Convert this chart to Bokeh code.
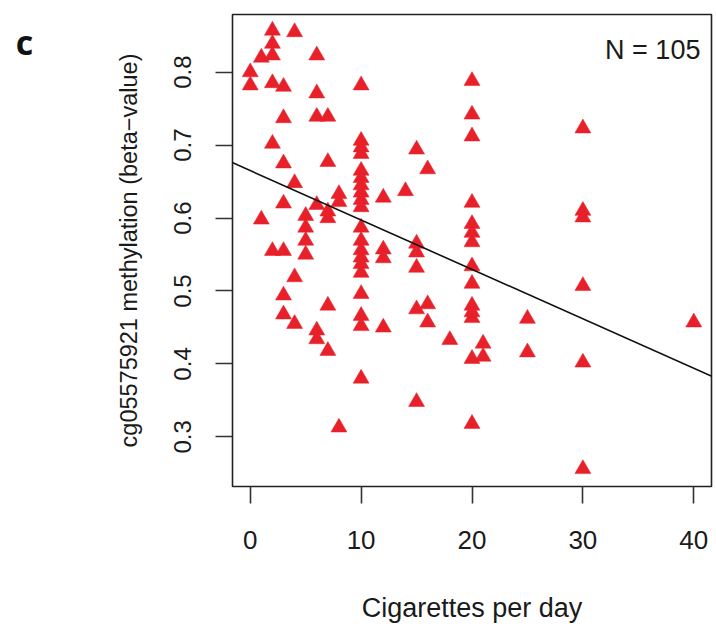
from bokeh.plotting import figure
from bokeh.layouts import row
from bokeh.models import Range1d, FixedTicker, Slope, Label
from bokeh.core.properties import value
from bokeh.embed import file_html
from bokeh.resources import INLINE

# ---- data ----
cigarettes = ([0] * 2 + [1] * 2 + [2] * 6 + [3] * 7 + [4] * 4 + [5] * 4 + [6] * 6 + [7] * 6 + [8] * 3
              + [10] * 20 + [12] * 4 + [14] + [15] * 6 + [16] * 3 + [18] + [20] * 14 + [21] * 2
              + [25] * 2 + [30] * 6 + [40])
methylation = [
    0.800, 0.782,
    0.820, 0.598,
    0.857, 0.839, 0.823, 0.785, 0.702, 0.555,
    0.780, 0.737, 0.675, 0.620, 0.555, 0.494, 0.468,
    0.855, 0.648, 0.519, 0.455,
    0.603, 0.587, 0.569, 0.550,
    0.823, 0.771, 0.739, 0.618, 0.446, 0.434,
    0.739, 0.677, 0.609, 0.600, 0.480, 0.418,
    0.633, 0.622, 0.313,
    0.782, 0.706, 0.697, 0.688, 0.665, 0.655, 0.645, 0.635, 0.625, 0.615,
    0.587, 0.569, 0.556, 0.546, 0.537, 0.525, 0.496, 0.466, 0.452, 0.380,
    0.628, 0.557, 0.545, 0.450,
    0.637,
    0.694, 0.565, 0.553, 0.532, 0.475, 0.348,
    0.667, 0.482, 0.457,
    0.433,
    0.788, 0.742, 0.712, 0.621, 0.592, 0.580, 0.567, 0.534, 0.510, 0.480, 0.471, 0.463, 0.407, 0.318,
    0.428, 0.410,
    0.462, 0.416,
    0.723, 0.610, 0.601, 0.507, 0.402, 0.256,
    0.457,
]
fit_intercept = 0.665
fit_slope = -0.00677
x_ticks = [0, 10, 20, 30, 40]
y_ticks = [0.3, 0.4, 0.5, 0.6, 0.7, 0.8]
n_text = "N = 105"
panel_letter = ["c"]

FONT = "Liberation Sans"
TEXT = "#1a1a1a"

# ---- narrow strip holding the panel letter ----
strip = figure(width=40, height=627, output_backend="svg", toolbar_location=None,
               x_range=Range1d(0, 40), y_range=Range1d(627, 0),
               min_border=0, outline_line_color=None)
strip.axis.visible = False
strip.grid.visible = False
strip.text(x=[24], y=[37], text=panel_letter, text_align="center", text_baseline="alphabetic",
           text_font=value("Open Sans"), text_font_style="bold", text_font_size="34px",
           text_color="#111111")

# ---- main scatter ----
p = figure(width=676, height=627, output_backend="svg", toolbar_location=None,
           x_range=Range1d(-1.6, 41.6), y_range=Range1d(0.232, 0.879),
           min_border_left=192, min_border_right=5, min_border_top=14, min_border_bottom=141)

p.xgrid.visible = False
p.ygrid.visible = False
p.outline_line_color = "#222222"
p.outline_line_width = 1.6
p.background_fill_color = "white"
p.border_fill_color = "white"

for ax in (p.xaxis[0], p.yaxis[0]):
    ax.axis_line_color = None
    ax.major_tick_out = 17
    ax.major_tick_in = 0
    ax.minor_tick_line_color = None
    ax.major_tick_line_color = "#333333"
    ax.major_tick_line_width = 1.6
    ax.major_label_text_font = FONT
    ax.axis_label_text_font = FONT
    ax.major_label_text_color = TEXT
    ax.axis_label_text_color = TEXT
    ax.axis_label_text_font_style = "normal"

p.xaxis.ticker = FixedTicker(ticks=x_ticks)
p.yaxis.ticker = FixedTicker(ticks=y_ticks)
p.xaxis.major_label_text_font_size = "26px"
p.yaxis.major_label_text_font_size = "24px"
p.yaxis.major_label_orientation = "vertical"
p.xaxis.axis_label = "Cigarettes per day"
p.yaxis.axis_label = "cg05575921 methylation (beta\u2212value)"
p.xaxis.axis_label_text_font_size = "27px"
p.yaxis.axis_label_text_font_size = "23.5px"
p.xaxis.major_label_standoff = 27
p.yaxis.major_label_standoff = 24
p.xaxis.axis_label_standoff = 41
p.yaxis.axis_label_standoff = 30

p.scatter(cigarettes, methylation, marker="triangle", size=16,
          fill_color="#E8202A", line_color="#E8202A", line_width=0.5)

p.add_layout(Slope(gradient=fit_slope, y_intercept=fit_intercept,
                   line_color="#111111", line_width=1.6))

p.add_layout(Label(x=40.6, y=0.830, text=n_text, text_align="right", text_baseline="middle",
                   text_font=FONT, text_font_size="27px", text_color=TEXT))

layout = row(strip, p, spacing=0)
open("out.html", "w").write(file_html(layout, INLINE))
